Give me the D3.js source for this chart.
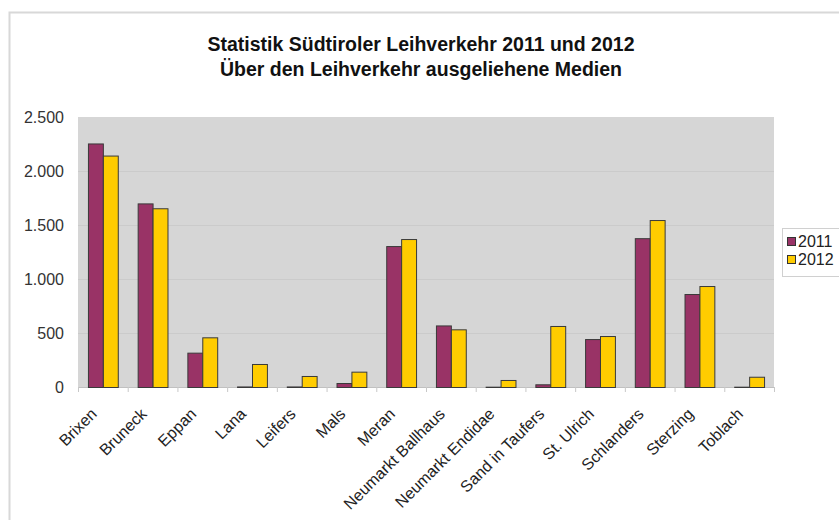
<!DOCTYPE html>
<html><head><meta charset="utf-8">
<script src="https://cdn.jsdelivr.net/npm/d3@7/dist/d3.min.js"></script>
<style>body{margin:0;background:#fff}svg{display:block}</style>
</head><body>
<svg id="c" width="839" height="520"></svg>
<script>
const categories = ["Brixen","Bruneck","Eppan","Lana","Leifers","Mals","Meran","Neumarkt Ballhaus","Neumarkt Endidae","Sand in Taufers","St. Ulrich","Schlanders","Sterzing","Toblach"];
const series2011 = [2255,1700,318,5,5,37,1305,570,3,25,444,1378,861,3];
const series2012 = [2143,1655,460,213,102,142,1370,534,65,565,472,1546,935,95];
const seriesNames = ["2011","2012"];
const yTicks = [0,500,1000,1500,2000,2500];
const yTickLabels = ["0","500","1.000","1.500","2.000","2.500"];
const titleLines = ["Statistik Südtiroler Leihverkehr 2011 und 2012","Über den Leihverkehr ausgeliehene Medien"];

const colors = ["#993366","#FFCC00"];
const svg = d3.select("#c");
const font = "'Liberation Sans', Arial, sans-serif";

// frame
svg.append("path").attr("d","M9.5,520 V12.5 H839").attr("fill","none").attr("stroke","#d8d8d8").attr("stroke-width",2);

const L=78, R=774, T=117, B=387;
const x0 = d3.scaleBand().domain(categories).range([L,R]).paddingInner(0.4).paddingOuter(0.2);
const x1 = d3.scaleBand().domain(seriesNames).range([0,x0.bandwidth()]);
const y = d3.scaleLinear().domain([0,2500]).range([B,T]);

svg.append("rect").attr("x",L).attr("y",T).attr("width",R-L).attr("height",B-T).attr("fill","#d6d6d6");
svg.append("g").selectAll("line").data(yTicks.slice(1,-1)).join("line")
  .attr("x1",L).attr("x2",R).attr("y1",d=>y(d)+0.5).attr("y2",d=>y(d)+0.5)
  .attr("stroke","#cbcbcb");

// title
svg.append("g").selectAll("text").data(titleLines).join("text")
  .attr("x",421).attr("y",(d,i)=>51+i*25).attr("text-anchor","middle")
  .attr("font-family",font).attr("font-weight","bold").attr("font-size",19.5).attr("fill","#111")
  .text(d=>d);

// y axis
const yAxis = d3.axisLeft(y).tickValues(yTicks).tickFormat((d,i)=>yTickLabels[i]).tickSize(0).tickPadding(14);
const gy = svg.append("g").attr("transform",`translate(${L},0)`).call(yAxis);
gy.select(".domain").remove();
gy.selectAll("text").attr("font-family",font).attr("font-size",16).attr("fill","#333");

// x axis
const step = x0.step();
const gx = svg.append("g");
gx.append("line").attr("x1",L).attr("x2",R).attr("y1",B+0.5).attr("y2",B+0.5).attr("stroke","#c0c0c0");
gx.selectAll("line.t").data(d3.range(categories.length+1)).join("line").attr("class","t")
  .attr("x1",i=>L+i*step+0.5).attr("x2",i=>L+i*step+0.5).attr("y1",B).attr("y2",B+5).attr("stroke","#c8c8c8");
gx.selectAll("text").data(categories).join("text")
  .attr("transform",d=>`translate(${x0(d)+x0.bandwidth()/2-5},${B+28}) rotate(-45)`)
  .attr("text-anchor","end").attr("font-family",font).attr("font-size",16).attr("fill","#222")
  .text(d=>d);

// bars
const data = categories.map((c,i)=>({c, vals:[series2011[i],series2012[i]]}));
const groups = svg.append("g").selectAll("g").data(data).join("g").attr("transform",d=>`translate(${x0(d.c)},0)`);
groups.selectAll("rect").data(d=>d.vals.map((v,j)=>({v,s:seriesNames[j],j}))).join("rect")
  .attr("x",d=>x1(d.s)+0.5).attr("y",d=>y(d.v)+0.5).attr("width",x1.bandwidth())
  .attr("height",d=>Math.max(0,B-y(d.v)))
  .attr("fill",d=>colors[d.j]).attr("stroke","#3a3a3a").attr("stroke-width",1);

// legend
const lg = svg.append("g");
lg.append("rect").attr("x",782.5).attr("y",228.5).attr("width",70).attr("height",48).attr("fill","#fff").attr("stroke","#d0d0d0");
seriesNames.forEach((s,i)=>{
  lg.append("rect").attr("x",787.5).attr("y",237.5+i*18).attr("width",8).attr("height",8).attr("fill",colors[i]).attr("stroke","#333");
  lg.append("text").attr("x",798).attr("y",247+i*18).attr("font-family",font).attr("font-size",16).attr("fill","#222").text(s);
});
</script>
</body></html>
